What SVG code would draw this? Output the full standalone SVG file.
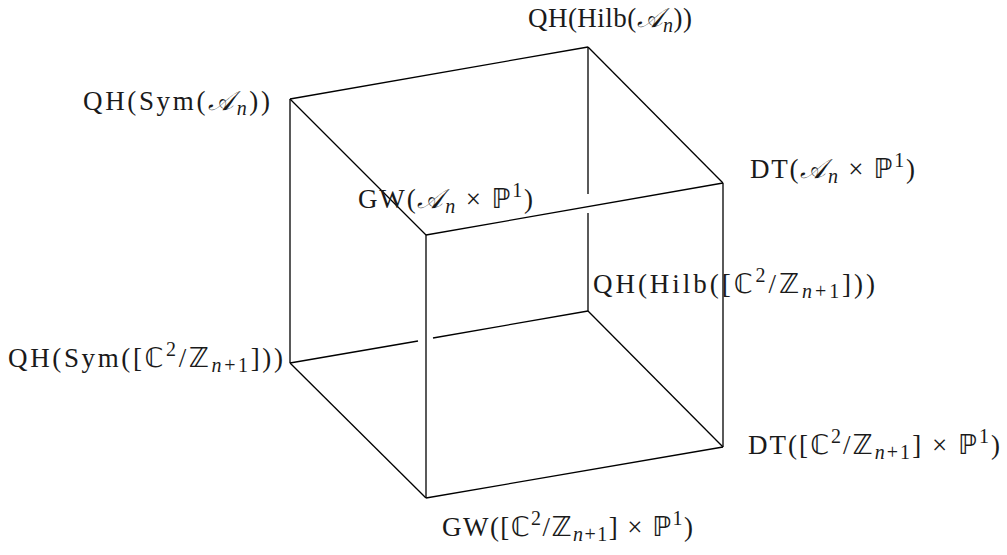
<svg xmlns="http://www.w3.org/2000/svg" width="1007" height="555" viewBox="0 0 1007 555">
<style>
.e{stroke:#000;stroke-width:1.3;fill:none;stroke-linecap:butt}
.t{font-family:"Liberation Serif","DejaVu Serif",serif;font-size:27px;fill:#1a1a1a}
.s{font-size:20px}
.m{font-family:"DejaVu Serif","DejaVu Sans",serif;font-style:italic}
.bb{font-family:"DejaVu Sans",sans-serif;font-size:27px}
</style>
<rect width="1007" height="555" fill="#fff"/>
<g id="connectors">
<line class="e" x1="290" y1="99" x2="588" y2="47"/>
<line class="e" x1="588" y1="47" x2="723" y2="183"/>
<line class="e" x1="723" y1="183" x2="426" y2="235"/>
<line class="e" x1="426" y1="235" x2="290" y2="99"/>
<line class="e" x1="290" y1="99" x2="290" y2="363"/>
<line class="e" x1="723" y1="183" x2="723" y2="447"/>
<line class="e" x1="426" y1="235" x2="426" y2="498"/>
<line class="e" x1="588" y1="47" x2="588" y2="194"/>
<line class="e" x1="588" y1="213" x2="588" y2="311"/>
<line class="e" x1="290" y1="363" x2="418" y2="341"/>
<line class="e" x1="433" y1="338" x2="588" y2="311"/>
<line class="e" x1="290" y1="363" x2="426" y2="498"/>
<line class="e" x1="426" y1="498" x2="723" y2="447"/>
<line class="e" x1="723" y1="447" x2="588" y2="311"/>
</g>
<g id="n-hilb-an"><text class="t" x="528" y="27" textLength="164" lengthAdjust="spacing">QH(Hilb(<tspan class="m">𝒜</tspan><tspan class="s" font-style="italic" dy="5">n</tspan><tspan dy="-5">))</tspan></text></g>
<g id="n-sym-an"><text class="t" x="83" y="110" textLength="187" lengthAdjust="spacing">QH(Sym(<tspan class="m">𝒜</tspan><tspan class="s" font-style="italic" dy="5">n</tspan><tspan dy="-5">))</tspan></text></g>
<g id="n-dt-an"><text class="t" x="750" y="178" textLength="165" lengthAdjust="spacing">DT(<tspan class="m">𝒜</tspan><tspan class="s" font-style="italic" dy="5">n</tspan><tspan dy="-5"> × </tspan><tspan class="bb">ℙ</tspan><tspan class="s" dy="-11">1</tspan><tspan dy="11">)</tspan></text></g>
<g id="n-gw-an"><text class="t" x="358" y="208" textLength="175" lengthAdjust="spacing">GW(<tspan class="m">𝒜</tspan><tspan class="s" font-style="italic" dy="5">n</tspan><tspan dy="-5"> × </tspan><tspan class="bb">ℙ</tspan><tspan class="s" dy="-11">1</tspan><tspan dy="11">)</tspan></text></g>
<g id="n-hilb-c2"><text class="t" x="593" y="293" textLength="282" lengthAdjust="spacing">QH(Hilb([<tspan class="bb">ℂ</tspan><tspan class="s" dy="-11">2</tspan><tspan dy="11">/</tspan><tspan class="bb">ℤ</tspan><tspan class="s" dy="5"><tspan font-style="italic">n</tspan>+1</tspan><tspan dy="-5">]))</tspan></text></g>
<g id="n-sym-c2"><text class="t" x="8" y="367" textLength="275" lengthAdjust="spacing">QH(Sym([<tspan class="bb">ℂ</tspan><tspan class="s" dy="-11">2</tspan><tspan dy="11">/</tspan><tspan class="bb">ℤ</tspan><tspan class="s" dy="5"><tspan font-style="italic">n</tspan>+1</tspan><tspan dy="-5">]))</tspan></text></g>
<g id="n-dt-c2"><text class="t" x="748" y="454" textLength="252" lengthAdjust="spacing">DT([<tspan class="bb">ℂ</tspan><tspan class="s" dy="-11">2</tspan><tspan dy="11">/</tspan><tspan class="bb">ℤ</tspan><tspan class="s" dy="5"><tspan font-style="italic">n</tspan>+1</tspan><tspan dy="-5">] × </tspan><tspan class="bb">ℙ</tspan><tspan class="s" dy="-11">1</tspan><tspan dy="11">)</tspan></text></g>
<g id="n-gw-c2"><text class="t" x="442" y="536" textLength="251" lengthAdjust="spacing">GW([<tspan class="bb">ℂ</tspan><tspan class="s" dy="-11">2</tspan><tspan dy="11">/</tspan><tspan class="bb">ℤ</tspan><tspan class="s" dy="5"><tspan font-style="italic">n</tspan>+1</tspan><tspan dy="-5">] × </tspan><tspan class="bb">ℙ</tspan><tspan class="s" dy="-11">1</tspan><tspan dy="11">)</tspan></text></g>
</svg>
